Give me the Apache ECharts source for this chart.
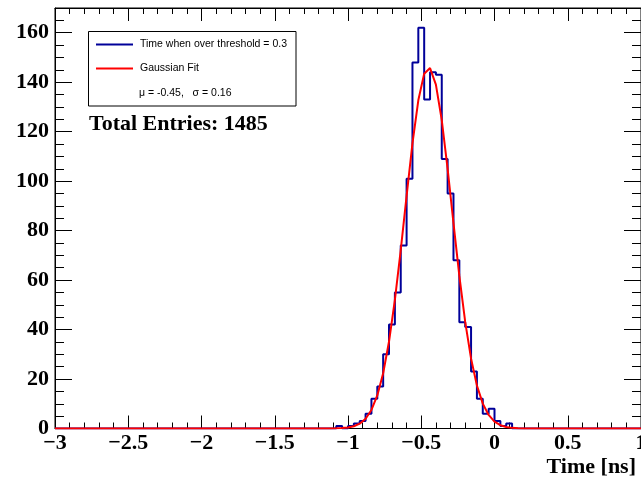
<!DOCTYPE html>
<html>
<head>
<meta charset="utf-8">
<script src="https://cdn.jsdelivr.net/npm/echarts@6/dist/echarts.min.js"></script>
<style>
  html, body { margin: 0; padding: 0; background: #fff; }
  #chart { width: 641px; height: 481px; }
</style>
</head>
<body>
<div id="chart"></div>
<script>
// Histogram of the time at which the signal crosses threshold 0.3 (bin width 0.04 ns)
const binLowEdges = [-1.12, -1.08, -1.04, -1.00, -0.96, -0.92, -0.88, -0.84, -0.80, -0.76,
                     -0.72, -0.68, -0.64, -0.60, -0.56, -0.52, -0.48, -0.44, -0.40, -0.36,
                     -0.32, -0.28, -0.24, -0.20, -0.16, -0.12, -0.08, -0.04, 0.00, 0.04,
                      0.08, 0.12];
const binCounts = [0, 1, 0, 1, 2, 3, 6, 12, 17, 30,
                   42, 55, 74, 101, 148, 162, 133, 144, 143, 109,
                   95, 68, 43, 41, 23, 12, 6, 8, 3, 1,
                   2, 0];
const BIN_WIDTH = 0.04;
const X_MIN = -3, X_MAX = 1;
const Y_MAX = 170;
const TOTAL_ENTRIES = 1485;

// Gaussian fit parameters
const FIT_MU = -0.45;
const FIT_SIGMA = 0.16;
const FIT_AMPLITUDE = 146;
const FIT_NPX = 100;

const HIST_NAME = 'Time when over threshold = 0.3';
const FIT_NAME = 'Gaussian Fit';

// Step outline of the histogram, running along zero outside the filled bins
const histLine = [[X_MIN, 0]];
binLowEdges.forEach((lo, i) => {
  const hi = lo + BIN_WIDTH;
  histLine.push([lo, binCounts[i]], [hi, binCounts[i]]);
});
histLine.push([binLowEdges[binLowEdges.length - 1] + BIN_WIDTH, 0], [X_MAX, 0]);

// Fitted Gaussian evaluated like a TF1 polyline
const fitLine = [];
for (let i = 0; i <= FIT_NPX; i++) {
  const x = X_MIN + (X_MAX - X_MIN) * i / FIT_NPX;
  const z = (x - FIT_MU) / FIT_SIGMA;
  fitLine.push([x, FIT_AMPLITUDE * Math.exp(-0.5 * z * z)]);
}

const SERIF = '"Liberation Serif", "Times New Roman", serif';
const SANS = '"Liberation Sans", Arial, sans-serif';
const minus = v => String(v).replace('-', '\u2212');

const baseX = {
  type: 'value', min: X_MIN, max: X_MAX, interval: 0.5,
  axisLine: { show: true, onZero: false, lineStyle: { color: '#000', width: 1 } },
  axisTick: { show: true, inside: true, length: 13, lineStyle: { color: '#000' } },
  minorTick: { show: true, splitNumber: 5, length: 6, lineStyle: { color: '#000' } },
  splitLine: { show: false }, minorSplitLine: { show: false }
};
const baseY = {
  type: 'value', min: 0, max: Y_MAX, interval: 20,
  axisLine: { show: true, onZero: false, lineStyle: { color: '#000', width: 1 } },
  axisTick: { show: true, inside: true, length: 17, lineStyle: { color: '#000' } },
  minorTick: { show: true, splitNumber: 4, length: 9, lineStyle: { color: '#000' } },
  splitLine: { show: false }, minorSplitLine: { show: false }
};

const chart = echarts.init(document.getElementById('chart'), null, { renderer: 'canvas' });
chart.setOption({
  animation: false,
  backgroundColor: '#fff',
  grid: { left: 55, right: 0, top: 8, bottom: 52.5, containLabel: false, outerBoundsMode: 'none',
          show: true, borderColor: '#000', borderWidth: 1, backgroundColor: 'transparent' },
  xAxis: [
    Object.assign({}, baseX, {
      position: 'bottom',
      axisLabel: { show: true, margin: 4, color: '#000', fontFamily: SERIF, fontWeight: 'bold', fontSize: 22,
                   formatter: minus, showMaxLabel: true, showMinLabel: true, hideOverlap: false }
    }),
    Object.assign({}, baseX, { position: 'top', axisLabel: { show: false } })
  ],
  yAxis: [
    Object.assign({}, baseY, {
      position: 'left',
      axisLabel: { show: true, margin: 6, color: '#000', fontFamily: SERIF, fontWeight: 'bold', fontSize: 22,
                   showMaxLabel: false }
    }),
    Object.assign({}, baseY, { position: 'right', axisLabel: { show: false } })
  ],
  series: [
    {
      name: HIST_NAME, type: 'line', data: histLine, showSymbol: false, symbol: 'none',
      lineStyle: { color: '#000099', width: 2 }, z: 3
    },
    {
      name: FIT_NAME, type: 'line', data: fitLine, showSymbol: false, symbol: 'none',
      lineStyle: { color: '#ff0000', width: 2 }, z: 4
    }
  ],
  graphic: [
    { type: 'rect', z: 100, shape: { x: 88.5, y: 31.5, width: 207.5, height: 74.5 },
      style: { fill: '#fff', stroke: '#000', lineWidth: 1 } },
    { type: 'line', z: 101, shape: { x1: 96, y1: 44.5, x2: 133, y2: 44.5 },
      style: { stroke: '#000099', lineWidth: 2 } },
    { type: 'text', z: 101, x: 140, y: 44.5,
      style: { text: HIST_NAME, font: '10.5px ' + SANS, fill: '#000', align: 'left', verticalAlign: 'middle' } },
    { type: 'line', z: 101, shape: { x1: 96, y1: 68.5, x2: 133, y2: 68.5 },
      style: { stroke: '#ff0000', lineWidth: 2 } },
    { type: 'text', z: 101, x: 140, y: 68.5,
      style: { text: FIT_NAME, font: '10.5px ' + SANS, fill: '#000', align: 'left', verticalAlign: 'middle' } },
    { type: 'text', z: 101, x: 139, y: 93.5,
      style: { text: '\u03bc = ' + FIT_MU.toFixed(2) + ',   \u03c3 = ' + FIT_SIGMA.toFixed(2),
               font: '10.5px ' + SANS, fill: '#000', align: 'left', verticalAlign: 'middle' } },
    { type: 'text', z: 101, x: 89, y: 124,
      style: { text: 'Total Entries: ' + TOTAL_ENTRIES, font: 'bold 22px ' + SERIF, fill: '#000',
               align: 'left', verticalAlign: 'middle' } },
    { type: 'text', z: 101, x: 636, y: 467,
      style: { text: 'Time [ns]', font: 'bold 22px ' + SERIF, fill: '#000', align: 'right', verticalAlign: 'middle' } }
  ]
});
</script>
</body>
</html>
